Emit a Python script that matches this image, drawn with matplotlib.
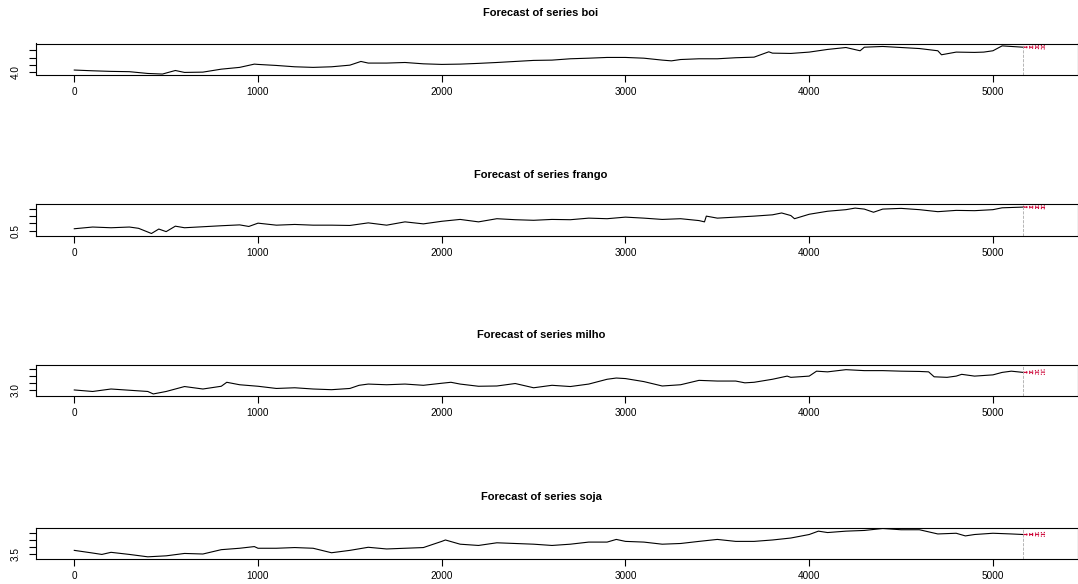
import matplotlib
matplotlib.use("Agg")
import matplotlib.pyplot as plt

plt.rcParams['font.family'] = ['Liberation Sans', 'DejaVu Sans']

# series (index, log price)
boi_t = [0, 100, 200, 300, 400, 480, 500, 550, 600, 700, 800, 900, 980, 1000, 1100, 1200, 1300, 1400, 1500, 1560,
         1600, 1700, 1800, 1900, 2000, 2100, 2200, 2300, 2400, 2500, 2600, 2700, 2800, 2900, 3000, 3100, 3200, 3250,
         3300, 3400, 3500, 3600, 3700, 3780, 3800, 3900, 4000, 4100, 4200, 4277, 4300, 4400, 4500, 4600, 4700, 4720,
         4800, 4900, 4950, 5000, 5050, 5100, 5165]
boi_y = [4.16, 4.11, 4.07, 4.05, 3.93, 3.89, 3.96, 4.13, 4.00, 4.02, 4.22, 4.34, 4.56, 4.54, 4.47, 4.38, 4.34, 4.38,
         4.49, 4.74, 4.63, 4.63, 4.67, 4.58, 4.54, 4.56, 4.61, 4.67, 4.74, 4.81, 4.83, 4.92, 4.96, 5.01, 5.01, 4.96,
         4.83, 4.78, 4.87, 4.92, 4.92, 4.99, 5.03, 5.39, 5.30, 5.28, 5.37, 5.55, 5.68, 5.46, 5.70, 5.75, 5.68, 5.61,
         5.46, 5.19, 5.37, 5.35, 5.37, 5.46, 5.79, 5.75, 5.70]

frango_t = [0, 100, 200, 300, 350, 420, 460, 500, 550, 600, 700, 800, 900, 950, 1000, 1100, 1200, 1300, 1400, 1500,
            1600, 1700, 1800, 1900, 2000, 2100, 2200, 2300, 2400, 2500, 2600, 2700, 2800, 2900, 3000, 3100, 3200, 3300,
            3400, 3430, 3440, 3500, 3600, 3700, 3800, 3850, 3900, 3920, 4000, 4100, 4200, 4250, 4300, 4350, 4400, 4500,
            4600, 4700, 4800, 4900, 5000, 5050, 5165]
frango_y = [0.63, 0.75, 0.70, 0.75, 0.66, 0.30, 0.61, 0.43, 0.81, 0.70, 0.77, 0.84, 0.90, 0.79, 1.02, 0.88, 0.93, 0.88,
            0.88, 0.86, 1.04, 0.88, 1.11, 0.97, 1.15, 1.28, 1.11, 1.33, 1.26, 1.22, 1.28, 1.26, 1.37, 1.33, 1.44, 1.37,
            1.28, 1.33, 1.20, 1.11, 1.51, 1.37, 1.44, 1.51, 1.60, 1.73, 1.55, 1.33, 1.64, 1.85, 1.96, 2.07, 2.00, 1.78,
            2.00, 2.05, 1.96, 1.82, 1.91, 1.89, 1.96, 2.09, 2.14]

milho_t = [0, 100, 200, 300, 400, 430, 500, 600, 700, 800, 830, 900, 1000, 1100, 1200, 1300, 1400, 1500, 1550, 1600,
           1700, 1800, 1900, 2000, 2050, 2100, 2200, 2300, 2400, 2500, 2600, 2700, 2800, 2900, 2950, 3000, 3100, 3200,
           3300, 3400, 3500, 3600, 3650, 3700, 3800, 3880, 3900, 4000, 4040, 4100, 4200, 4300, 4400, 4500, 4600, 4650,
           4680, 4750, 4800, 4830, 4900, 5000, 5050, 5100, 5165]
milho_y = [3.00, 2.89, 3.07, 2.98, 2.89, 2.71, 2.89, 3.25, 3.07, 3.27, 3.56, 3.38, 3.27, 3.11, 3.16, 3.07, 3.02, 3.11,
           3.34, 3.43, 3.38, 3.43, 3.34, 3.49, 3.56, 3.43, 3.27, 3.29, 3.47, 3.16, 3.34, 3.25, 3.43, 3.78, 3.87, 3.83,
           3.61, 3.29, 3.38, 3.70, 3.65, 3.65, 3.52, 3.56, 3.78, 4.01, 3.92, 4.01, 4.37, 4.32, 4.48, 4.41, 4.41, 4.37,
           4.35, 4.32, 3.96, 3.92, 4.01, 4.14, 4.01, 4.10, 4.28, 4.37, 4.28]

soja_t = [0, 100, 150, 200, 300, 400, 500, 600, 700, 800, 900, 980, 1000, 1100, 1200, 1300, 1400, 1500, 1600, 1700,
          1800, 1900, 2000, 2020, 2100, 2200, 2300, 2400, 2500, 2600, 2700, 2800, 2900, 2950, 3000, 3100, 3200, 3300,
          3400, 3500, 3600, 3700, 3800, 3900, 4000, 4050, 4100, 4200, 4300, 4400, 4500, 4600, 4700, 4800, 4850, 4900,
          5000, 5100, 5165]
soja_y = [3.74, 3.55, 3.45, 3.60, 3.45, 3.28, 3.35, 3.52, 3.48, 3.79, 3.89, 4.01, 3.89, 3.89, 3.94, 3.89, 3.57, 3.74,
          3.96, 3.84, 3.89, 3.94, 4.38, 4.48, 4.18, 4.09, 4.28, 4.23, 4.18, 4.09, 4.18, 4.33, 4.33, 4.52, 4.38, 4.33,
          4.18, 4.23, 4.38, 4.52, 4.38, 4.38, 4.48, 4.62, 4.87, 5.11, 5.01, 5.11, 5.16, 5.30, 5.21, 5.21, 4.91, 4.96,
          4.77, 4.87, 4.96, 4.91, 4.87]

# forecast horizon
fc_t = [5165, 5195, 5225, 5255, 5286]
boi_fc = [5.70, 5.70, 5.70, 5.71, 5.71]
boi_lo = [5.70, 5.65, 5.62, 5.60, 5.58]
boi_hi = [5.70, 5.75, 5.78, 5.81, 5.83]
frango_fc = [2.14, 2.13, 2.13, 2.12, 2.12]
frango_lo = [2.14, 2.09, 2.06, 2.04, 2.02]
frango_hi = [2.14, 2.18, 2.20, 2.22, 2.23]
milho_fc = [4.28, 4.29, 4.29, 4.30, 4.30]
milho_lo = [4.28, 4.22, 4.18, 4.15, 4.13]
milho_hi = [4.28, 4.35, 4.40, 4.44, 4.47]
soja_fc = [4.87, 4.87, 4.88, 4.88, 4.88]
soja_lo = [4.87, 4.82, 4.79, 4.76, 4.74]
soja_hi = [4.87, 4.92, 4.96, 5.00, 5.02]

nomes = ['boi', 'frango', 'milho', 'soja']
series = [(boi_t, boi_y, boi_fc, boi_lo, boi_hi),
          (frango_t, frango_y, frango_fc, frango_lo, frango_hi),
          (milho_t, milho_y, milho_fc, milho_lo, milho_hi),
          (soja_t, soja_y, soja_fc, soja_lo, soja_hi)]
y_ticks = [[4.0, 4.5, 5.0, 5.5], [0.5, 1.0, 1.5, 2.0], [3.0, 3.5, 4.0, 4.5], [3.5, 4.0, 4.5, 5.0]]
y_lims = [(3.86, 5.95), (0.16, 2.32), (2.56, 4.82), (3.16, 5.37)]
x_ticks = [0, 1000, 2000, 3000, 4000, 5000]

W, H = 1078, 584
fig = plt.figure(figsize=(W / 100, H / 100), dpi=100)

box_top = [43.5, 204.5, 365, 527.5]
box_h = 31
title_y = [13, 175, 335, 497]
left = 35.7

for i, nome in enumerate(nomes):
    t, y, fc, lo, hi = series[i]
    ax = fig.add_axes([left / W, 1 - (box_top[i] + box_h) / H, 1 - left / W, box_h / H])
    ax.plot(t, y, color='black', lw=0.8)
    ax.plot(fc_t, fc, color='#cc0033', lw=0.8, ls='--')
    ax.plot(fc_t, lo, color='#cc0033', lw=0.8, ls=':')
    ax.plot(fc_t, hi, color='#cc0033', lw=0.8, ls=':')
    ax.axvline(t[-1], color='#aaaaaa', lw=0.6, ls='--')
    ax.set_xlim(-210, 5463)
    ax.set_ylim(*y_lims[i])
    ax.set_xticks(x_ticks)
    ax.set_xticklabels([str(v) for v in x_ticks])
    ax.set_yticks(y_ticks[i])
    ax.set_yticklabels([f'{y_ticks[i][0]:.1f}', '', '', ''], rotation=90, va='center')
    ax.tick_params(direction='out', length=5, width=0.8, labelsize=7.2, pad=4)
    ax.tick_params(axis='y', pad=6)
    for s in ax.spines.values():
        s.set_linewidth(0.8)
    fig.text(541 / W, 1 - title_y[i] / H, 'Forecast of series ' + nome,
             ha='center', va='center', fontsize=8, fontweight='bold')

fig.savefig('out.png', dpi=100)
